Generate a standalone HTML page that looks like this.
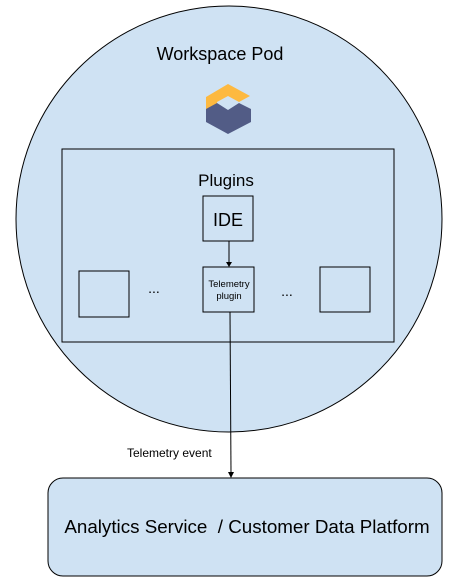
<!DOCTYPE html>
<html><head><style>body{margin:0;background:#fff}</style></head><body>
<svg width="458" height="583" xmlns="http://www.w3.org/2000/svg" font-family="Liberation Sans, Arial, sans-serif">
<ellipse cx="229" cy="219" rx="213" ry="213" fill="#cfe2f3" stroke="#000" stroke-width="1"/>
<text x="220" y="60" font-size="18" text-anchor="middle">Workspace Pod</text>
<polygon points="206,97 228,84 250,96 239,102 228,96 217,102 217,109 206,115" fill="#fdb940"/>
<polygon points="206,109 217,103 228,110 239,103 251,109 251,122 228,134 206,122" fill="#525c86"/>
<rect x="62" y="149" width="332" height="193" fill="none" stroke="#000"/>
<text x="226" y="186" font-size="17" text-anchor="middle">Plugins</text>
<rect x="203" y="196" width="50" height="45" fill="none" stroke="#000"/>
<text x="228" y="226" font-size="18" text-anchor="middle">IDE</text>
<line x1="229" y1="241" x2="229" y2="262" stroke="#000"/>
<polygon points="226,262 232,262 229,267" fill="#000"/>
<rect x="203" y="267" width="51" height="45" fill="none" stroke="#000"/>
<text x="229" y="287" font-size="9.5" text-anchor="middle">Telemetry</text>
<text x="229" y="299" font-size="9.5" text-anchor="middle">plugin</text>
<rect x="79" y="271" width="50" height="46" fill="none" stroke="#000"/>
<rect x="320" y="267" width="50" height="45" fill="none" stroke="#000"/>
<text x="154" y="293" font-size="14" text-anchor="middle">...</text>
<text x="287" y="296" font-size="14" text-anchor="middle">...</text>
<line x1="230" y1="312" x2="231" y2="472" stroke="#000"/>
<polygon points="228,472 234,472 231,478" fill="#000"/>
<text x="127" y="457" font-size="12">Telemetry event</text>
<rect x="48" y="478" width="394" height="98" rx="15" fill="#cfe2f3" stroke="#000"/>
<text x="247" y="533" font-size="18.8" text-anchor="middle" xml:space="preserve">Analytics Service  / Customer Data Platform</text>
</svg>
</body></html>
